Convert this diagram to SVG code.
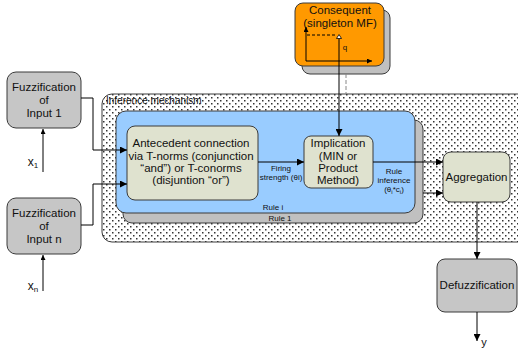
<svg xmlns="http://www.w3.org/2000/svg" width="518" height="351" viewBox="0 0 518 351">
  <defs>
    <pattern id="dots" x="0" y="0" width="6" height="6" patternUnits="userSpaceOnUse">
      <rect width="6" height="6" fill="#ffffff"/>
      <rect x="1" y="1" width="1.5" height="1.5" fill="#333"/>
      <rect x="4" y="4" width="1.5" height="1.5" fill="#333"/>
    </pattern>
    <marker id="arr" viewBox="0 0 10 10" refX="10" refY="5" markerWidth="7" markerHeight="7" orient="auto" markerUnits="userSpaceOnUse">
      <path d="M0,0 L10,5 L0,10 Z" fill="#000"/>
    </marker>
    <marker id="arrS" viewBox="0 0 10 10" refX="10" refY="5" markerWidth="5" markerHeight="5" orient="auto" markerUnits="userSpaceOnUse">
      <path d="M0,0 L10,5 L0,10 Z" fill="#000"/>
    </marker>
  </defs>
  <style>
    text { font-family: "Liberation Sans", Arial, sans-serif; fill: #111; }
    .box { stroke: #3a3a3a; stroke-width: 1; }
    .gray { fill: #c6c6c6; }
    .olive { fill: #dfe2cf; }
    .t11 { font-size: 11.5px; text-anchor: middle; }
    .t8 { font-size: 8px; text-anchor: middle; }
    .ln { stroke: #000; stroke-width: 1; fill: none; }
  </style>

  <!-- inference mechanism container -->
  <g id="inference">
    <rect x="102" y="94" width="430" height="148" rx="10" fill="url(#dots)" class="box"/>
    <text x="106" y="104" font-size="10" fill="#222">Inference mechanism</text>
  </g>

  <!-- rule stack -->
  <g id="rule1">
    <rect x="123" y="120" width="300" height="103" rx="9" fill="#c0c0c0" class="box"/>
    <text x="280" y="221" class="t8">Rule 1</text>
  </g>
  <g id="rule-i">
    <rect x="116" y="111" width="299" height="102" rx="10" fill="#99ccff" class="box"/>
    <text x="273" y="210" class="t8">Rule i</text>
  </g>

  <g id="fuzz1">
    <rect x="7" y="72" width="74" height="56" rx="9" class="box gray"/>
    <text x="44" y="91" class="t11">Fuzzification</text>
    <text x="44" y="104" class="t11">of</text>
    <text x="44" y="117" class="t11">Input 1</text>
  </g>

  <g id="fuzzn">
    <rect x="7" y="198" width="74" height="56" rx="9" class="box gray"/>
    <text x="44" y="217" class="t11">Fuzzification</text>
    <text x="44" y="230" class="t11">of</text>
    <text x="44" y="243" class="t11">Input n</text>
  </g>

  <g id="antecedent">
    <rect x="127" y="126" width="131" height="74" rx="8" class="box olive"/>
    <text x="191" y="147" class="t11">Antecedent connection</text>
    <text x="191" y="160" class="t11">via T-norms (conjunction</text>
    <text x="191" y="172" class="t11">“and”) or T-conorms</text>
    <text x="191" y="184" class="t11">(disjuntion “or”)</text>
  </g>

  <g id="implication">
    <rect x="304" y="136" width="69" height="52" rx="7" class="box olive"/>
    <text x="338" y="147" class="t11">Implication</text>
    <text x="338" y="160" class="t11">(MIN or</text>
    <text x="338" y="172" class="t11">Product</text>
    <text x="338" y="184" class="t11">Method)</text>
  </g>

  <g id="consequent">
    <rect x="302" y="10" width="88" height="64" rx="8" fill="#c0c0c0" class="box"/>
    <rect x="295" y="3" width="89" height="63" rx="8" fill="#ff9900" class="box"/>
    <text x="340" y="14" class="t11">Consequent</text>
    <text x="340" y="27" class="t11">(singleton MF)</text>
    <line x1="306" y1="61" x2="306" y2="27" class="ln" marker-end="url(#arrS)"/>
    <line x1="306" y1="61" x2="372" y2="61" class="ln" marker-end="url(#arrS)"/>
    <line x1="307" y1="35" x2="337" y2="35" stroke="#000" stroke-width="1" stroke-dasharray="3,2"/>
    <path d="M339,34.5 L336.5,38.5 L341.5,38.5 Z" fill="#fff" stroke="#000" stroke-width="0.8"/>
    <text x="345" y="50" font-size="8" text-anchor="middle">q</text>
  </g>

  <g id="aggregation">
    <rect x="443" y="152" width="67" height="50" rx="8" class="box olive"/>
    <text x="476.5" y="181" class="t11">Aggregation</text>
  </g>

  <g id="defuzzification">
    <rect x="437" y="259" width="80" height="53" rx="8" class="box gray"/>
    <text x="477" y="289" class="t11">Defuzzification</text>
  </g>

  <g id="connectors">
    <!-- inputs -->
    <line x1="43" y1="172" x2="43" y2="129" class="ln" marker-end="url(#arrS)"/>
    <text x="33" y="166" font-size="12" text-anchor="middle">x<tspan font-size="8" dy="2">1</tspan></text>
    <line x1="43" y1="291" x2="43" y2="255" class="ln" marker-end="url(#arrS)"/>
    <text x="33" y="290" font-size="12" text-anchor="middle">x<tspan font-size="8" dy="2">n</tspan></text>

    <path d="M81,98 H93 V150 H127" class="ln" marker-end="url(#arr)"/>
    <path d="M81,225 H93 V184 H127" class="ln" marker-end="url(#arr)"/>

    <!-- firing strength -->
    <line x1="258" y1="162" x2="304" y2="162" class="ln" marker-end="url(#arr)"/>
    <text x="281" y="171" class="t8">Firing</text>
    <text x="281" y="180" class="t8">strength (θi)</text>

    <!-- consequent to implication -->
    <line x1="339" y1="39" x2="339" y2="136" class="ln" marker-end="url(#arr)"/>
    <line x1="346" y1="74" x2="346" y2="94" stroke="#888" stroke-width="1" stroke-dasharray="4,2"/>

    <!-- rule outputs -->
    <line x1="373" y1="162" x2="443" y2="162" class="ln" marker-end="url(#arr)"/>
    <line x1="423" y1="193" x2="443" y2="193" class="ln" marker-end="url(#arr)"/>
    <text x="394" y="174" class="t8">Rule</text>
    <text x="394" y="183" class="t8">inference</text>
    <text x="394" y="192" class="t8">(θ<tspan font-size="6" dy="1.5">i</tspan><tspan dy="-1.5">*c</tspan><tspan font-size="6" dy="1.5">i</tspan><tspan dy="-1.5">)</tspan></text>

    <!-- aggregation to defuzzification to output -->
    <line x1="477" y1="202" x2="477" y2="259" class="ln" marker-end="url(#arr)"/>
    <line x1="477" y1="312" x2="477" y2="341" class="ln" marker-end="url(#arr)"/>
    <text x="484" y="346" font-size="11" text-anchor="middle">y</text>
  </g>
</svg>
